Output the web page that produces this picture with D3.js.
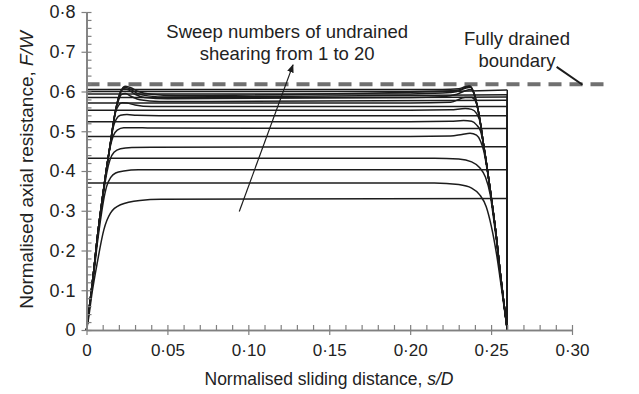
<!DOCTYPE html>
<html>
<head>
<meta charset="utf-8">
<script src="https://cdn.jsdelivr.net/npm/d3@7"></script>
<style>
  html, body { margin: 0; padding: 0; background: #fff; }
  svg { display: block; font-family: "Liberation Sans", Arial, sans-serif; }
</style>
</head>
<body>
<svg id="chart" width="639" height="394"></svg>
<script>
// ---------------- data ----------------
const xDomain = [0, 0.30];
const yDomain = [0, 0.8];
const xMajorTicks = [0, 0.05, 0.10, 0.15, 0.20, 0.25, 0.30];
const xTickLabels = ["0", "0·05", "0·10", "0·15", "0·20", "0·25", "0·30"];
const xMinorTicks = [0.01,0.02,0.03,0.04,0.06,0.07,0.08,0.09,0.11,0.12,0.13,0.14,0.16,0.17,0.18,0.19,0.21,0.22,0.23,0.24,0.26,0.27,0.28,0.29];
const yMajorTicks = [0, 0.1, 0.2, 0.3, 0.4, 0.5, 0.6, 0.7, 0.8];
const yTickLabels = ["0", "0·1", "0·2", "0·3", "0·4", "0·5", "0·6", "0·7", "0·8"];
const yMinorTicks = [0.02,0.04,0.06,0.08,0.12,0.14,0.16,0.18,0.22,0.24,0.26,0.28,0.32,0.34,0.36,0.38,0.42,0.44,0.46,0.48,0.52,0.54,0.56,0.58,0.62,0.64,0.66,0.68,0.72,0.74,0.76,0.78];

// fully drained boundary (F/W) and its extent in s/D
const drainedBoundary = [[0, 0.618], [0.321, 0.618]];

// forward sweeps (odd numbers): start at s/D = 0, end at s/D = 0.26
const sweep01 = [[0,0],[0.0008,0.017],[0.0035,0.095],[0.0066,0.168],[0.0107,0.252],[0.0148,0.294],[0.021,0.315],[0.033,0.326],[0.046,0.329],[0.26,0.331]];
const sweep03 = [[0,0],[0.002,0.06],[0.0045,0.14],[0.0066,0.215],[0.0086,0.275],[0.0105,0.325],[0.0125,0.362],[0.015,0.384],[0.018,0.395],[0.023,0.400],[0.032,0.403],[0.26,0.403]];
const sweep05 = [[0,0],[0.002,0.063],[0.0045,0.147],[0.0066,0.225],[0.0086,0.29],[0.0105,0.345],[0.0125,0.395],[0.0145,0.428],[0.017,0.447],[0.021,0.456],[0.028,0.459],[0.04,0.460],[0.26,0.461]];
const sweep07 = [[0,0],[0.002,0.065],[0.0045,0.15],[0.0066,0.23],[0.0086,0.295],[0.0105,0.352],[0.0125,0.41],[0.0145,0.458],[0.0165,0.488],[0.019,0.503],[0.023,0.509],[0.029,0.509],[0.04,0.508],[0.26,0.507]];
const sweep09 = [[0,0],[0.002,0.065],[0.0045,0.15],[0.0066,0.23],[0.0086,0.295],[0.0105,0.352],[0.0125,0.41],[0.0148,0.47],[0.0165,0.51],[0.0185,0.531],[0.021,0.540],[0.025,0.542],[0.031,0.540],[0.045,0.539],[0.26,0.539]];
const sweep11 = [[0,0],[0.002,0.065],[0.0045,0.15],[0.0066,0.23],[0.0086,0.295],[0.0105,0.352],[0.0125,0.41],[0.0148,0.47],[0.0165,0.518],[0.018,0.548],[0.0198,0.565],[0.022,0.572],[0.025,0.571],[0.03,0.566],[0.04,0.562],[0.26,0.562]];
const sweep13 = [[0,0],[0.002,0.065],[0.0045,0.15],[0.0066,0.23],[0.0086,0.295],[0.0105,0.352],[0.0125,0.41],[0.0148,0.47],[0.0165,0.518],[0.018,0.553],[0.0198,0.578],[0.0215,0.592],[0.024,0.595],[0.0275,0.588],[0.033,0.579],[0.045,0.575],[0.26,0.578]];
const sweep15 = [[0,0],[0.002,0.065],[0.0045,0.15],[0.0066,0.23],[0.0086,0.295],[0.0105,0.352],[0.0125,0.41],[0.0148,0.47],[0.0165,0.518],[0.018,0.553],[0.0195,0.58],[0.021,0.598],[0.0232,0.607],[0.026,0.604],[0.030,0.593],[0.036,0.585],[0.05,0.582],[0.26,0.586]];
const sweep17 = [[0,0],[0.002,0.065],[0.0045,0.15],[0.0066,0.23],[0.0086,0.295],[0.0105,0.352],[0.0125,0.41],[0.0148,0.47],[0.0165,0.518],[0.018,0.553],[0.0195,0.58],[0.021,0.598],[0.0235,0.611],[0.0265,0.607],[0.031,0.596],[0.038,0.589],[0.05,0.586],[0.26,0.592]];
const sweep19 = [[0,0],[0.002,0.065],[0.0045,0.15],[0.0066,0.23],[0.0086,0.295],[0.0105,0.352],[0.0125,0.41],[0.0148,0.47],[0.0165,0.518],[0.018,0.553],[0.0195,0.58],[0.021,0.598],[0.0238,0.613],[0.027,0.610],[0.032,0.600],[0.04,0.593],[0.055,0.590],[0.26,0.604]];

// backward sweeps (even numbers): start at s/D = 0.26, end at s/D = 0 (listed by increasing s/D)
const sweep02 = [[0,0.370],[0.215,0.370],[0.230,0.366],[0.238,0.357],[0.243,0.340],[0.247,0.310],[0.2502,0.260],[0.2534,0.190],[0.2566,0.100],[0.259,0.030],[0.26,0]];
const sweep04 = [[0,0.432],[0.215,0.432],[0.230,0.430],[0.238,0.423],[0.243,0.408],[0.2465,0.385],[0.2495,0.340],[0.2514,0.285],[0.2534,0.222],[0.2555,0.145],[0.258,0.062],[0.26,0]];
const sweep06 = [[0,0.487],[0.20,0.487],[0.225,0.488],[0.232,0.492],[0.237,0.495],[0.241,0.490],[0.2435,0.475],[0.2455,0.450],[0.2475,0.405],[0.2495,0.350],[0.2514,0.294],[0.2534,0.230],[0.2555,0.150],[0.258,0.065],[0.26,0]];
const sweep08 = [[0,0.524],[0.20,0.524],[0.225,0.525],[0.233,0.527],[0.238,0.525],[0.241,0.516],[0.2435,0.500],[0.2452,0.470],[0.2475,0.410],[0.2495,0.352],[0.2514,0.295],[0.2534,0.230],[0.2555,0.150],[0.258,0.065],[0.26,0]];
const sweep10 = [[0,0.553],[0.20,0.553],[0.225,0.554],[0.234,0.557],[0.238,0.555],[0.241,0.545],[0.2435,0.518],[0.2452,0.470],[0.2475,0.410],[0.2495,0.352],[0.2514,0.295],[0.2534,0.230],[0.2555,0.150],[0.258,0.065],[0.26,0]];
const sweep12 = [[0,0.571],[0.20,0.571],[0.225,0.573],[0.234,0.585],[0.238,0.585],[0.2405,0.575],[0.242,0.553],[0.2435,0.518],[0.2452,0.470],[0.2475,0.410],[0.2495,0.352],[0.2514,0.295],[0.2534,0.230],[0.2555,0.150],[0.258,0.065],[0.26,0]];
const sweep14 = [[0,0.585],[0.20,0.585],[0.22,0.587],[0.229,0.593],[0.234,0.602],[0.2375,0.605],[0.2395,0.596],[0.2405,0.580],[0.242,0.553],[0.2435,0.518],[0.2452,0.470],[0.2475,0.410],[0.2495,0.352],[0.2514,0.295],[0.2534,0.230],[0.2555,0.150],[0.258,0.065],[0.26,0]];
const sweep16 = [[0,0.594],[0.20,0.594],[0.22,0.596],[0.229,0.600],[0.234,0.608],[0.2375,0.611],[0.239,0.600],[0.2405,0.580],[0.242,0.553],[0.2435,0.518],[0.2452,0.470],[0.2475,0.410],[0.2495,0.352],[0.2514,0.295],[0.2534,0.230],[0.2555,0.150],[0.258,0.065],[0.26,0]];
const sweep18 = [[0,0.600],[0.20,0.600],[0.22,0.601],[0.23,0.604],[0.234,0.610],[0.237,0.613],[0.239,0.600],[0.2405,0.580],[0.242,0.553],[0.2435,0.518],[0.2452,0.470],[0.2475,0.410],[0.2495,0.352],[0.2514,0.295],[0.2534,0.230],[0.2555,0.150],[0.258,0.065],[0.26,0]];
const sweep20 = [[0,0.605],[0.20,0.605],[0.22,0.605],[0.23,0.607],[0.234,0.612],[0.2365,0.614],[0.239,0.600],[0.2405,0.580],[0.242,0.553],[0.2435,0.518],[0.2452,0.470],[0.2475,0.410],[0.2495,0.352],[0.2514,0.295],[0.2534,0.230],[0.2555,0.150],[0.258,0.065],[0.26,0]];

const forwardSweeps = [sweep01, sweep03, sweep05, sweep07, sweep09, sweep11, sweep13, sweep15, sweep17, sweep19];
const backwardSweeps = [sweep02, sweep04, sweep06, sweep08, sweep10, sweep12, sweep14, sweep16, sweep18, sweep20];

// annotations (in data units)
const sweepNoteLines = ["Sweep numbers of undrained", "shearing from 1 to 20"];
const sweepNoteAnchor = [0.124, 0.735];
const sweepArrow = [[0.0944, 0.298], [0.1276, 0.667]];
const drainedNoteLines = ["Fully drained", "boundary"];
const drainedNoteAnchor = [0.266, 0.716];
const drainedPointer = [[0.2905, 0.662], [0.3065, 0.617]];

// ---------------- drawing ----------------
const svg = d3.select("#chart");
const W = 639, H = 394;
svg.append("rect").attr("width", W).attr("height", H).attr("fill", "#fff");

const x = d3.scaleLinear().domain(xDomain).range([86.5, 572]);
const y = d3.scaleLinear().domain(yDomain).range([330, 12]);

const axisColor = "#808080";
const inkColor = "#1c1c1c";

// dashed drained boundary
svg.append("path")
  .attr("d", d3.line().x(d => x(d[0])).y(d => y(d[1]))(drainedBoundary))
  .attr("fill", "none").attr("stroke", "#707070")
  .attr("stroke-width", 4).attr("stroke-dasharray", "13,8");

// sweeps
const line = d3.line().x(d => x(d[0])).y(d => y(d[1])).curve(d3.curveMonotoneX);
const g = svg.append("g").attr("fill", "none").attr("stroke", inkColor).attr("stroke-width", 1.5);

backwardSweeps.forEach(s => g.append("path").attr("d", line(s)));
forwardSweeps.forEach(s => {
  g.append("path").attr("d", line(s));
  const last = s[s.length - 1];
  g.append("line")
    .attr("x1", x(last[0])).attr("x2", x(last[0]))
    .attr("y1", y(last[1])).attr("y2", y(0));
});

// axes
const xAxisG = svg.append("g").attr("transform", `translate(0,${y(0)})`);
xAxisG.call(d3.axisBottom(x).tickValues(xMajorTicks).tickFormat((d, i) => xTickLabels[i])
  .tickSizeInner(5).tickSizeOuter(0).tickPadding(9));
const xInner = svg.append("g").attr("transform", `translate(0,${y(0)})`);
xInner.call(d3.axisBottom(x).tickValues(xMajorTicks.concat(xMinorTicks)).tickFormat("")
  .tickSizeInner(-5).tickSizeOuter(0));

const yAxisG = svg.append("g").attr("transform", `translate(${x(0)},0)`);
yAxisG.call(d3.axisLeft(y).tickValues(yMajorTicks).tickFormat((d, i) => yTickLabels[i])
  .tickSizeInner(5).tickSizeOuter(0).tickPadding(6));
const yInner = svg.append("g").attr("transform", `translate(${x(0)},0)`);
yInner.call(d3.axisLeft(y).tickValues(yMajorTicks.concat(yMinorTicks)).tickFormat("")
  .tickSizeInner(-5).tickSizeOuter(0));

[xAxisG, xInner, yAxisG, yInner].forEach(a => {
  a.selectAll(".domain").attr("stroke", axisColor).attr("stroke-width", 1.6);
  a.selectAll(".tick line").attr("stroke", axisColor).attr("stroke-width", 1.2);
  a.selectAll("text").attr("fill", "#222").attr("font-size", 17)
    .attr("font-family", "Liberation Sans, Arial, sans-serif");
});
yAxisG.selectAll("text").attr("font-size", 18);

// axis titles
const xt = svg.append("text").attr("x", 329).attr("y", 385).attr("text-anchor", "middle")
  .attr("font-size", 17.5).attr("fill", "#222");
xt.append("tspan").text("Normalised sliding distance, ");
xt.append("tspan").attr("font-style", "italic").text("s/D");

const yt = svg.append("text").attr("transform", "translate(33,170) rotate(-90)")
  .attr("text-anchor", "middle").attr("font-size", 19).attr("fill", "#222");
yt.append("tspan").text("Normalised axial resistance, ");
yt.append("tspan").attr("font-style", "italic").text("F/W");

// sweep annotation
svg.append("defs").append("marker")
  .attr("id", "ah").attr("viewBox", "0 0 10 10").attr("refX", 9).attr("refY", 5)
  .attr("markerWidth", 7).attr("markerHeight", 7).attr("orient", "auto")
  .append("path").attr("d", "M0,1 L10,5 L0,9 Z").attr("fill", inkColor);

svg.append("line")
  .attr("x1", x(sweepArrow[0][0])).attr("y1", y(sweepArrow[0][1]))
  .attr("x2", x(sweepArrow[1][0])).attr("y2", y(sweepArrow[1][1]))
  .attr("stroke", inkColor).attr("stroke-width", 1.2).attr("marker-end", "url(#ah)");

sweepNoteLines.forEach((t, i) => {
  svg.append("text").attr("x", x(sweepNoteAnchor[0])).attr("y", y(sweepNoteAnchor[1]) + i * 22)
    .attr("text-anchor", "middle").attr("font-size", 18.5).attr("fill", "#222").text(t);
});

drainedNoteLines.forEach((t, i) => {
  svg.append("text").attr("x", x(drainedNoteAnchor[0])).attr("y", y(drainedNoteAnchor[1]) + i * 22)
    .attr("text-anchor", "middle").attr("font-size", 18.5).attr("fill", "#222").text(t);
});
svg.append("line")
  .attr("x1", x(drainedPointer[0][0])).attr("y1", y(drainedPointer[0][1]))
  .attr("x2", x(drainedPointer[1][0])).attr("y2", y(drainedPointer[1][1]))
  .attr("stroke", inkColor).attr("stroke-width", 2);
</script>
</body>
</html>
